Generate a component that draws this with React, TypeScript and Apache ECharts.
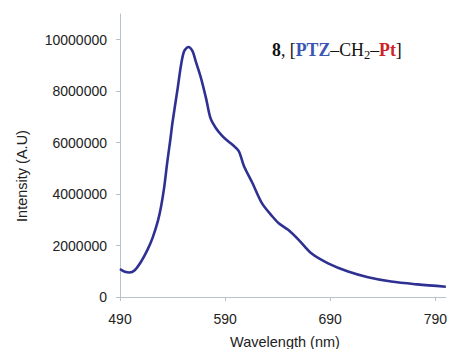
import React, { useEffect, useRef } from "react";
import * as echarts from "echarts";

const wavelengths = [490, 494, 499, 504, 510, 516, 521, 526, 529, 532, 535, 538, 540, 545, 548, 551, 555, 559, 562, 567, 572, 576, 581, 587, 592, 597, 603, 608, 616, 625, 635, 641, 650, 660, 672, 688, 707, 726, 748, 773, 800];
const intensitiesM = [1.09, 0.99, 0.95, 1.04, 1.37, 1.82, 2.3, 2.95, 3.5, 4.25, 5.25, 6.15, 6.8, 8.15, 9.0, 9.55, 9.72, 9.56, 9.17, 8.52, 7.7, 6.96, 6.58, 6.27, 6.08, 5.92, 5.67, 5.08, 4.43, 3.65, 3.13, 2.87, 2.61, 2.22, 1.7, 1.31, 0.99, 0.77, 0.6, 0.49, 0.4];
const intensities = intensitiesM.map((v) => v * 1000000);
const xTicks = [490, 590, 690, 790];
const yTicks = [0, 2000000, 4000000, 6000000, 8000000, 10000000];
const titleParts = [
  { text: "8", kind: "bold" },
  { text: ", [", kind: "normal" },
  { text: "PTZ", kind: "blue" },
  { text: "–CH", kind: "normal" },
  { text: "2", kind: "sub" },
  { text: "–", kind: "normal" },
  { text: "Pt", kind: "red" },
  { text: "]", kind: "normal" },
];

export default function App() {
  const ref = useRef<HTMLDivElement>(null);
  useEffect(() => {
    const chart = echarts.init(ref.current!, null, { renderer: "svg" });
    const axisColor = "#b8c2cc";
    const labelStyle = { fontFamily: "Liberation Sans", fontSize: 14, color: "#222" };

    const fs = 17.8;
    const subFs = 12.5;
    const ctx = document.createElement("canvas").getContext("2d")!;
    let cx = 272;
    const titleEls: any[] = [];
    titleParts.forEach((p) => {
      const bold = p.kind === "bold" || p.kind === "blue" || p.kind === "red";
      const size = p.kind === "sub" ? subFs : fs;
      const weight = bold ? "bold" : "normal";
      ctx.font = `${weight} ${size}px "Liberation Serif"`;
      const w = ctx.measureText(p.text).width;
      const fill = p.kind === "blue" ? "#3a55b4" : p.kind === "red" ? "#cc2229" : "#111";
      titleEls.push({
        type: "text",
        x: cx,
        y: p.kind === "sub" ? 55 : 49.5,
        style: {
          text: p.text,
          fontFamily: "Liberation Serif",
          fontSize: size,
          fontWeight: weight,
          fill,
          align: "left",
          verticalAlign: "middle",
        },
      });
      cx += w;
    });

    chart.setOption({
      animation: false,
      backgroundColor: "#fff",
      grid: { left: 120, top: 14, width: 330, height: 283, containLabel: false },
      xAxis: {
        type: "value",
        min: 490,
        max: 800,
        interval: 100,
        splitLine: { show: false },
        axisLine: { show: true, lineStyle: { color: axisColor, width: 1 } },
        axisTick: { show: true, length: 4, lineStyle: { color: axisColor }, customValues: xTicks },
        axisLabel: { ...labelStyle, margin: 15, customValues: xTicks },
      },
      yAxis: {
        type: "value",
        min: 0,
        max: 11000000,
        interval: 2000000,
        splitLine: { show: false },
        axisLine: { show: true, lineStyle: { color: axisColor, width: 1 } },
        axisTick: { show: true, length: 4, lineStyle: { color: axisColor }, customValues: yTicks },
        axisLabel: { ...labelStyle, margin: 13, customValues: yTicks, formatter: (v: number) => String(v) },
      },
      series: [
        {
          type: "line",
          data: wavelengths.map((w, i) => [w, intensities[i]]),
          showSymbol: false,
          smooth: 0.3,
          lineStyle: { color: "#2e3192", width: 2.6 },
        },
      ],
      graphic: [
        {
          type: "text",
          x: 22,
          y: 176,
          rotation: Math.PI / 2,
          style: {
            text: "Intensity (A.U)",
            fontFamily: "Liberation Sans",
            fontSize: 14.5,
            fill: "#222",
            align: "center",
            verticalAlign: "middle",
          },
        },
        {
          type: "text",
          x: 285,
          y: 342,
          style: {
            text: "Wavelength (nm)",
            fontFamily: "Liberation Sans",
            fontSize: 14.5,
            fill: "#222",
            align: "center",
            verticalAlign: "middle",
          },
        },
        ...titleEls,
      ],
    });
    return () => chart.dispose();
  }, []);
  return <div ref={ref} style={{ position: "absolute", left: 0, top: 0, width: 450, height: 349 }} />;
}
